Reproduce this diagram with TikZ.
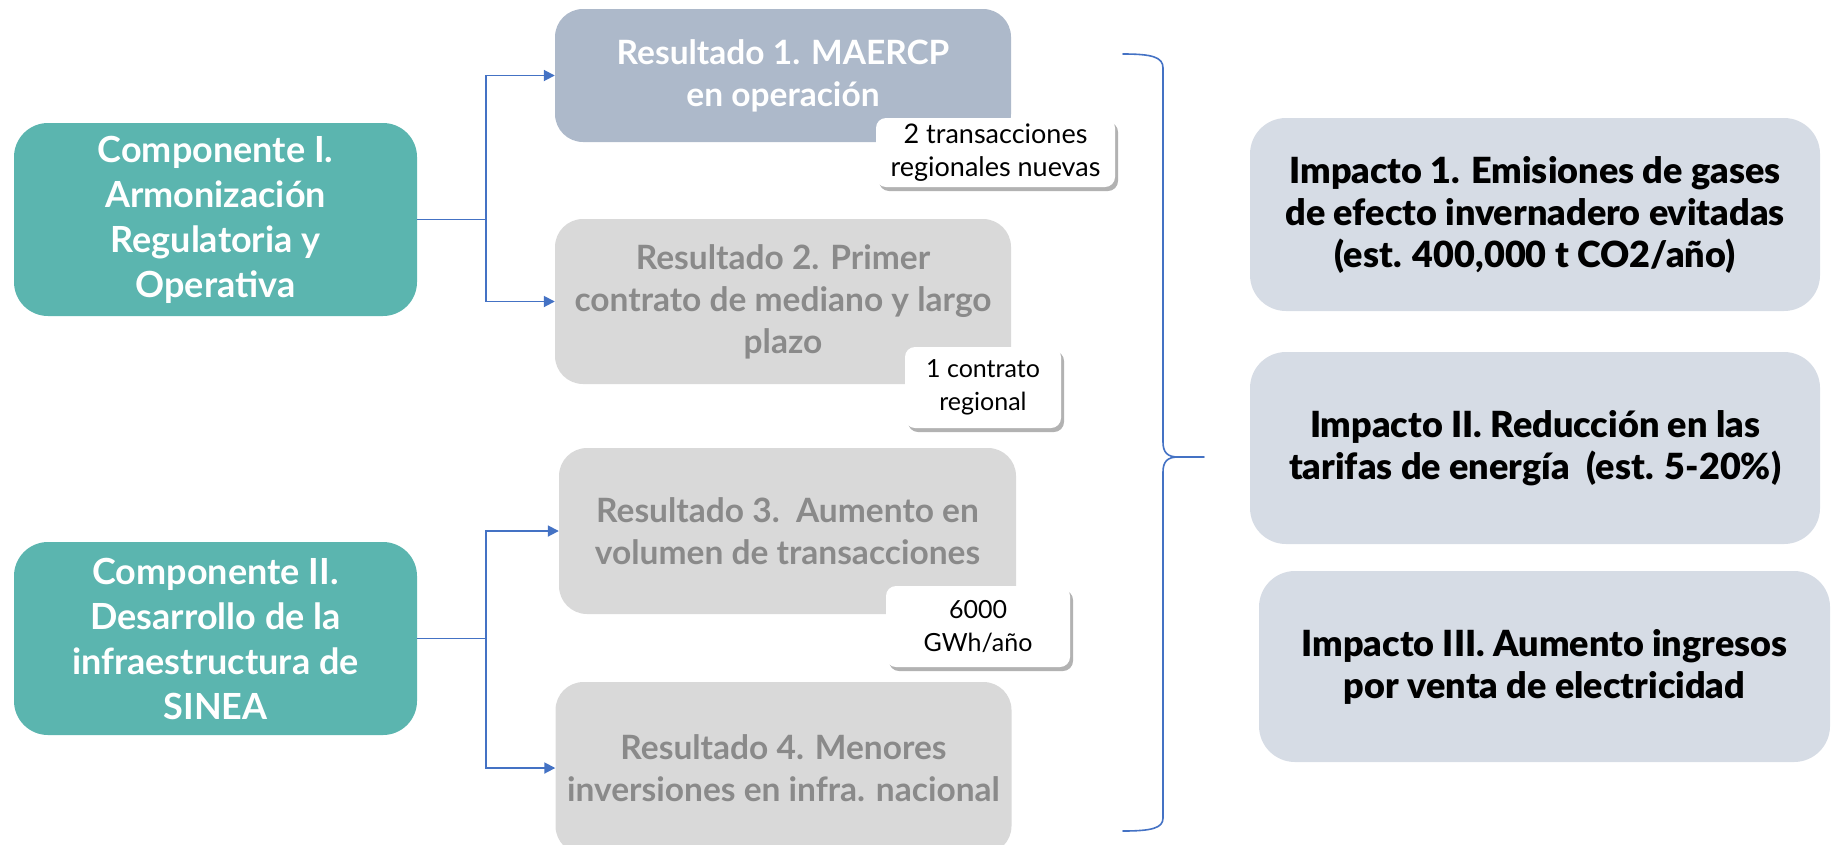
\documentclass[tikz,border=0pt]{standalone}
\usepackage{fontspec}
\setmainfont{Lato}
\newfontfamily\impfont{Lato Black}
\usetikzlibrary{arrows.meta,shadows}
\definecolor{tealc}{HTML}{5BB5AF}
\definecolor{resbc}{HTML}{ADB9CA}
\definecolor{resgc}{HTML}{D9D9D9}
\definecolor{resgt}{HTML}{8A8A8A}
\definecolor{impc}{HTML}{D6DCE5}
\definecolor{linec}{HTML}{4472C4}
\begin{document}
\begin{tikzpicture}[x=1pt,y=-1pt,
  box/.style={rectangle, inner sep=0pt, align=center, anchor=center},
  comp/.style={box, fill=tealc, rounded corners=34pt, text=white,
    minimum width=403pt, minimum height=193pt,
    font=\bfseries\fontsize{36}{45}\selectfont},
  resb/.style={box, rounded corners=28pt, minimum width=456pt,
    font=\bfseries\fontsize{33.5}{42}\selectfont},
  imp/.style={box, fill=impc, rounded corners=36pt, text=black,
    minimum width=570pt, minimum height=192pt,
    font=\impfont\fontsize{36}{42}\selectfont},
  lab/.style={box, fill=white, rounded corners=10pt, text=black,
    font=\fontsize{25}{33}\selectfont,
    drop shadow={shadow xshift=3pt, shadow yshift=-4pt, fill=black, opacity=0.3}},
  conn/.style={draw=linec, line width=1.8pt, -{Triangle[length=11pt,width=11pt]}},
  bracec/.style={draw=linec, line width=1.6pt, line cap=round}
]
\useasboundingbox (0,0) rectangle (1835,844);
\clip (0,0) rectangle (1835,844);

% components
\node[comp] (comp1) at (215.5,219.5) {Componente I.\\Armonización\\Regulatoria y\\Operativa};
\node[comp] (comp2) at (215.5,638.5) {Componente II.\\Desarrollo de la\\infraestructura de\\SINEA};

% results
\node[resb, fill=resbc, text=white, minimum height=133pt] (res1) at (783,75.5) {Resultado 1. MAERCP\\en operación};
\node[resb, fill=resgc, text=resgt, minimum height=165pt] (res2) at (783,301.5) {Resultado 2. Primer\\contrato de mediano y largo\\plazo};
\node[resb, fill=resgc, text=resgt, minimum width=457pt, minimum height=166pt] (res3) at (787.5,531) {Resultado 3.\ \ Aumento en\\volumen de transacciones};
\node[resb, fill=resgc, text=resgt, minimum height=172pt] (res4) at (783.5,768) {Resultado 4. Menores\\inversiones en infra. nacional};

% labels
\node[lab, minimum width=239pt, minimum height=69pt, font=\fontsize{27}{33}\selectfont] (lab1) at (995.5,152.5) {2 transacciones\\regionales nuevas};
\node[lab, minimum width=156pt, minimum height=81pt] (lab2) at (983,387.5) {1 contrato\\regional};
\node[lab, minimum width=184pt, minimum height=81pt] (lab3) at (978,626.5) {6000\\GWh/año};

% impacts
\node[imp, minimum height=193pt] (imp1) at (1535,214.5) {Impacto 1. Emisiones de gases\\de efecto invernadero evitadas\\(est. 400,000 t CO2/año)};
\node[imp] (imp2) at (1535,448) {Impacto II. Reducción en las\\tarifas de energía\ \ (est. 5-20\%)};
\node[imp, minimum width=571pt, minimum height=191pt] (imp3) at (1544.5,666.5) {Impacto III. Aumento ingresos\\por venta de electricidad};

% connectors
\draw[conn] (comp1.east) -- ++(69,0) |- (res1.west);
\draw[conn] (comp1.east) -- ++(69,0) |- (res2.west);
\draw[conn] (comp2.east) -- ++(69,0) |- (res3.west);
\draw[conn] (comp2.east) -- ++(69,0) |- (res4.west);

% brace
\coordinate (btop) at (1123,54);
\coordinate (bbot) at (1123,831);
\coordinate (btip) at (1204,457);
\draw[bracec] (btop) .. controls (1152,54) and (1163,57) .. (1163,68)
  -- (1163,442) .. controls (1163,452) and (1167,457) .. (1178,457) -- (btip);
\draw[bracec] (1178,457) .. controls (1167,457) and (1163,462) .. (1163,472)
  -- (1163,818) .. controls (1163,828) and (1152,831) .. (bbot);
\end{tikzpicture}
\end{document}
